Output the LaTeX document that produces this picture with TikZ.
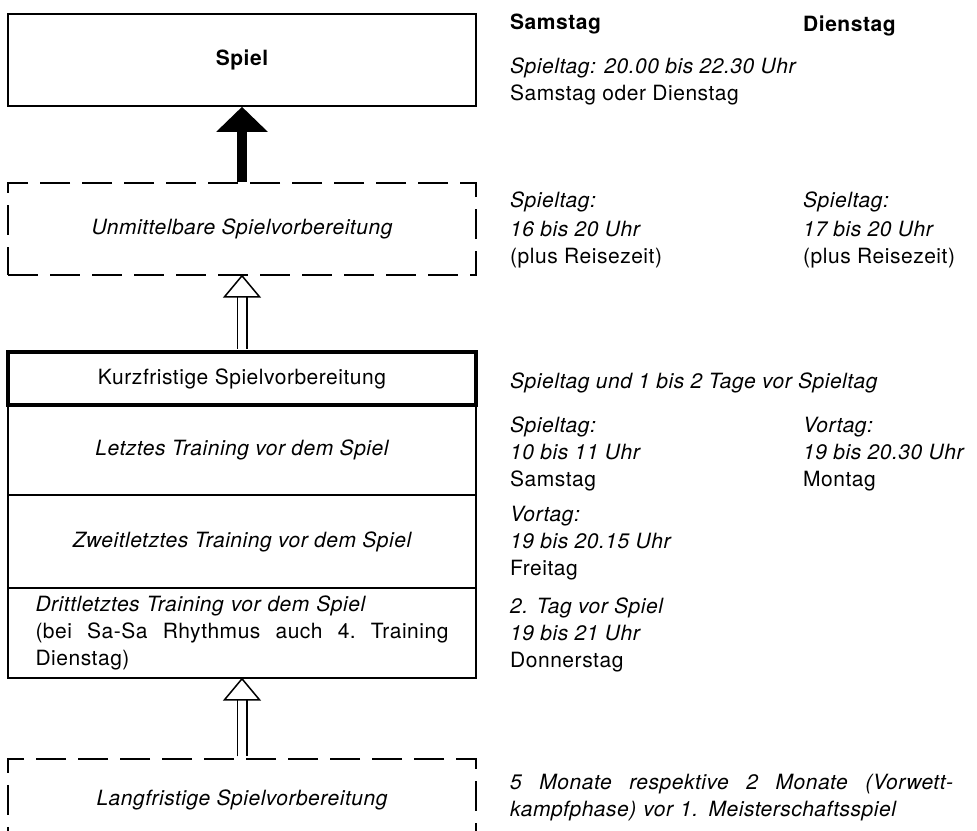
\documentclass[tikz,border=0pt]{standalone}
\usepackage{fontspec}
\setmainfont{TeX Gyre Heros}[LetterSpace=2.5]
\usetikzlibrary{arrows.meta,positioning}

\newcommand{\diagfont}{\fontsize{21}{27}\selectfont}

\begin{document}
\begin{tikzpicture}[
    x=1pt, y=-1pt,
    every node/.style={font=\diagfont},
    box/.style={draw, line width=1.6pt, minimum width=468pt, inner sep=0pt},
    dashbox/.style={box, dash pattern=on 30pt off 12pt},
    headbox/.style={box, line width=3.2pt},
    note/.style={anchor=base west, align=left, inner sep=0pt},
    solidarrow/.style={line width=10pt, -{Triangle[width=50pt,length=25pt]}},
    hollowshaft/.style={line width=1.5pt, double distance=8pt, shorten >=20pt, shorten <=1.6pt},
    hollowhead/.style={line width=1.5pt, line join=miter, fill=white}
]
\useasboundingbox (0,0) rectangle (977,830);
\clip (0,0) rectangle (977,830);

% Left: boxes
\node[box, minimum height=92pt, font=\diagfont\bfseries] (spiel) at (242,60) {Spiel};
\node[dashbox, minimum height=92pt, font=\diagfont\itshape] (unmittel) at (242,229) {Unmittelbare Spielvorbereitung};

\node[box, minimum height=90pt, font=\diagfont\itshape] (letzt) at (242,450) {Letztes Training vor dem Spiel};
\node[box, minimum height=93pt, font=\diagfont\itshape] (zweit) at (242,541.5) {Zweitletztes Training vor dem Spiel};
\node[box, minimum height=90pt, text width=413pt, align=left] (dritt) at (242,633)
    {\textit{Drittletztes Training vor dem Spiel}\\
     (bei\hfill Sa-Sa\hfill Rhythmus\hfill auch\hfill 4.\hfill Training\\
     Dienstag)};
\node[headbox, minimum height=53pt] (kurz) at (242,378.5) {Kurzfristige Spielvorbereitung};

\node[dashbox, anchor=north, minimum height=130pt, text height=15pt, text depth=51pt,
    font=\diagfont\itshape] (lang) at (242,758) {Langfristige Spielvorbereitung};

% Arrows
\draw[solidarrow] (unmittel.north) -- (spiel.south);
\draw[hollowshaft] (kurz.north) -- (unmittel.south);
\draw[hollowhead] (unmittel.south) -- ++(17.5,21) -- ++(-35,0) -- cycle;
\draw[hollowshaft] (lang.north) -- (dritt.south);
\draw[hollowhead] (dritt.south) -- ++(17.5,21) -- ++(-35,0) -- cycle;

% Right: times (placed at the baseline of the last line)
\node[note, font=\diagfont\bfseries] (samstag) at (510,29) {Samstag};
\node[note, font=\diagfont\bfseries] (dienstag) at (803,31) {Dienstag};
\node[note] (spielzeit) at (510,100) {\textit{Spieltag: 20.00 bis 22.30 Uhr}\\Samstag oder Dienstag};

\node[note] (unmsa) at (510,263) {\textit{Spieltag:}\\[2pt]\textit{16 bis 20 Uhr}\\(plus Reisezeit)};
\node[note] (unmdi) at (803,263) {\textit{Spieltag:}\\[2pt]\textit{17 bis 20 Uhr}\\(plus Reisezeit)};

\node[note] (kurzzeit) at (510,388) {\textit{Spieltag und 1 bis 2 Tage vor Spieltag}};
\node[note] (letztsa) at (510,486) {\textit{Spieltag:}\\\textit{10 bis 11 Uhr}\\Samstag};
\node[note] (letztdi) at (803,486) {\textit{Vortag:}\\\textit{19 bis 20.30 Uhr}\\Montag};
\node[note] (zweitsa) at (510,575) {\textit{Vortag:}\\\textit{19 bis 20.15 Uhr}\\Freitag};
\node[note] (drittsa) at (510,667) {\textit{2. Tag vor Spiel}\\\textit{19 bis 21 Uhr}\\Donnerstag};
\node[note, text width=443pt] (langzeit) at (510,789)
    {\textit{5\hfill Monate\hfill respektive\hfill 2\hfill Monate\hfill (Vorwett-}\\
     \textit{kampfphase) vor 1. Meisterschaftsspiel}};

\end{tikzpicture}
\end{document}
